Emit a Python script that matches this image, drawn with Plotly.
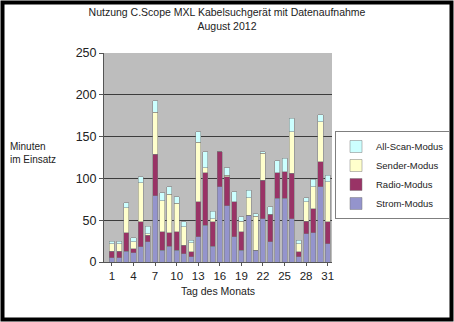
import plotly.graph_objects as go

days = list(range(1, 32))

strom = [5, 5, 13, 11, 18, 24, 79, 14, 19, 14, 10, 6, 30, 44, 19, 90,
         67, 30, 14, 56, 14, 52, 24, 76, 76, 52, 6, 34, 35, 90, 22]
radio = [8, 8, 22, 5, 30, 8, 50, 22, 16, 22, 10, 6, 42, 63, 29, 42,
         35, 42, 22, 0, 0, 46, 33, 31, 32, 54, 6, 15, 29, 30, 26]
sender = [9, 9, 30, 8, 47, 2, 50, 37, 46, 34, 22, 11, 71, 6, 4, 0,
          2, 0, 13, 21, 41, 32, 0, 0, 0, 50, 10, 23, 26, 48, 48]
allscan = [3, 3, 6, 5, 7, 9, 14, 10, 9, 8, 6, 3, 13, 19, 9, 0,
           9, 12, 5, 9, 3, 2, 9, 14, 16, 16, 4, 5, 9, 8, 8]

x_ticks = [1, 4, 7, 10, 13, 16, 19, 22, 25, 28, 31]

series = [
    ("Strom-Modus", strom, "#9494cc"),
    ("Radio-Modus", radio, "#993366"),
    ("Sender-Modus", sender, "#ffffcc"),
    ("All-Scan-Modus", allscan, "#ccffff"),
]

W, H = 454, 322
ML, MR, MT, MB = 104, 122, 53, 60

fig = go.Figure()
for name, vals, col in series:
    fig.add_trace(go.Bar(
        x=days, y=vals, name=name,
        marker=dict(color=col, line=dict(color="#7a7a7a", width=0.5)),
    ))

# frame around whole picture, in paper coords
pw = W - ML - MR
ph = H - MT - MB
inset = 2.5
fig.add_shape(
    type="rect", xref="paper", yref="paper",
    x0=(inset - ML) / pw, x1=(W - inset - ML) / pw,
    y0=(inset - MB) / ph, y1=(H - inset - MB) / ph,
    line=dict(color="black", width=4),
    layer="above",
)

fig.update_layout(
    width=W, height=H,
    margin=dict(l=ML, r=MR, t=MT, b=MB, autoexpand=False),
    barmode="stack",
    bargap=0.3,
    paper_bgcolor="white",
    plot_bgcolor="#bdbdbd",
    font=dict(family="Liberation Sans, Arial, sans-serif", color="#222222", size=11),
    title=dict(
        text="Nutzung C.Scope MXL Kabelsuchgerät mit Datenaufnahme<br>August 2012",
        x=0.5, xref="container", xanchor="center",
        y=0.95, yref="container", yanchor="top",
        font=dict(size=10.5),
    ),
    legend=dict(
        traceorder="reversed",
        xref="container", yref="container",
        x=335 / W, xanchor="left", y=1 - 131 / H, yanchor="top",
        bordercolor="#7f7f7f", borderwidth=1,
        bgcolor="white",
        font=dict(size=9.5),
        itemwidth=30,
        tracegroupgap=0,
    ),
    annotations=[
        dict(text="Minuten<br>im Einsatz", xref="paper", yref="paper",
             x=(8 - ML) / pw, y=0.52, xanchor="left", yanchor="middle",
             align="left", showarrow=False, font=dict(size=10)),
    ],
    showlegend=True,
)

fig.update_xaxes(
    title=dict(text="Tag des Monats", font=dict(size=10.5), standoff=6),
    tickmode="array", tickvals=x_ticks, ticktext=[str(t) for t in x_ticks],
    range=[-0.1, 31.6],
    showgrid=False, showline=True, linecolor="#555555",
    ticks="outside", ticklen=3, tickcolor="#555555",
    tickfont=dict(size=11.5),
)
fig.update_yaxes(
    range=[0, 250], dtick=50,
    showgrid=True, gridcolor="#3c3c3c", gridwidth=1,
    showline=True, linecolor="#555555",
    ticks="outside", ticklen=4, tickcolor="#555555",
    tickfont=dict(size=12.5),
    zeroline=False,
)

# page body has a default 8px margin; drop it so the figure fills the window
fig.write_html(
    "out.html",
    config={"displayModeBar": False},
    post_script="document.body.style.margin='0';document.body.style.overflow='hidden';",
)
